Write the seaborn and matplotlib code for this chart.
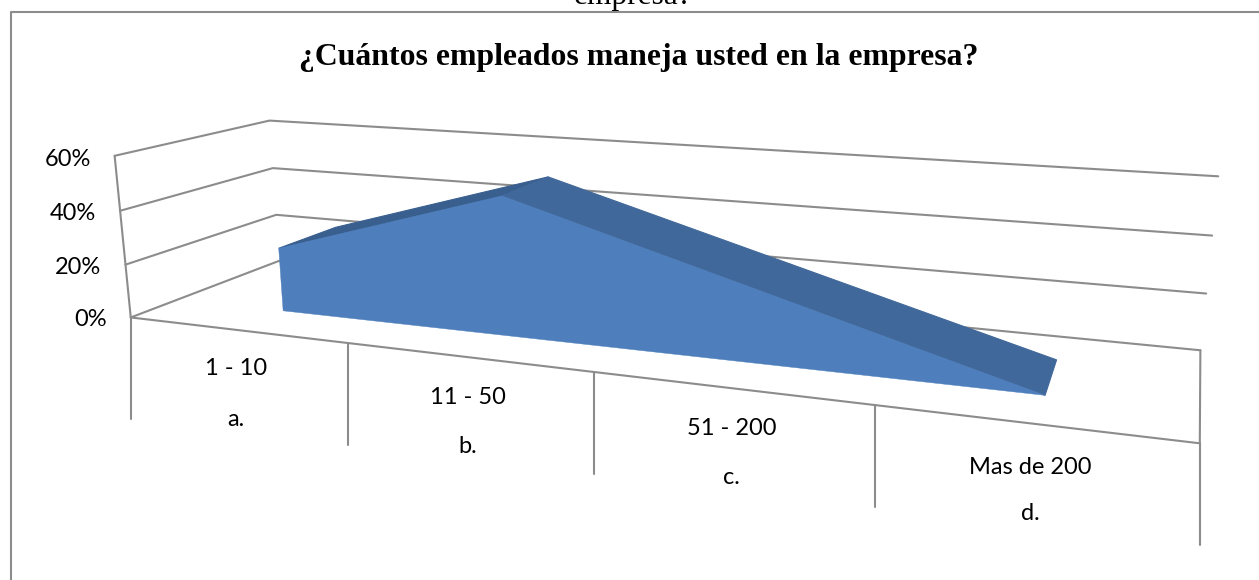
import numpy as np
import pandas as pd
import matplotlib
matplotlib.use("Agg")
import matplotlib.pyplot as plt
import seaborn as sns

# ---- chart data
categories = ["1 - 10", "11 - 50", "51 - 200", "Mas de 200"]
letters = ["a.", "b.", "c.", "d."]
values = [24, 50, 25, 0]
y_ticks = [0, 20, 40, 60]
title = "¿Cuántos empleados maneja usted en la empresa?"
clipped_caption = "empresa?"

W, H = 1259, 580
GRAY = "#8c8c8c"
FRONT = "#4e7fbc"
TOP = "#41689a"
TOP_DARK = "#395f8f"
DEPTH_FRONT, DEPTH_BACK = 0.29, 0.70
X_OFFSET = 0.513

# camera calibration: world (category position, value, depth) -> image pixel
calib_world = np.array([
    [0, 0, 0], [1, 0, 0], [2, 0, 0], [3, 0, 0], [4, 0, 0],
    [4, 0, 1], [0, 0, 1], [0, 60, 0], [0, 60, 1], [4, 60, 1],
    [0, 20, 0], [0, 40, 0], [0, 20, 1], [0, 40, 1], [4, 20, 1], [4, 40, 1],
], float)
calib_px = np.array([
    [131, 318], [348, 343], [594, 372], [875, 405], [1200, 443],
    [1200, 350], [279, 261], [114, 156], [270, 121], [1218, 176],
    [126, 265], [120, 210], [276, 214], [273, 168], [1207, 294], [1212, 236],
], float)
A, b = [], []
for (X, Y, Z), (u, v) in zip(calib_world, calib_px):
    A.append([X, Y, Z, 1, 0, 0, 0, 0, -u * X, -u * Y, -u * Z]); b.append(u)
    A.append([0, 0, 0, 0, X, Y, Z, 1, -v * X, -v * Y, -v * Z]); b.append(v)
P = np.append(np.linalg.lstsq(np.array(A), np.array(b), rcond=None)[0], 1).reshape(3, 4)


def project(x, y, z):
    p = P @ np.array([x, y, z, 1.0])
    return p[0] / p[2], p[1] / p[2]


sns.set_theme(style="white")
fig = plt.figure(figsize=(W / 100, H / 100), dpi=100)
ax = fig.add_axes([0, 0, 1, 1])
ax.set_xlim(0, W)
ax.set_ylim(H, 0)

rows = []
def add(name, pts):
    for p in pts:
        rows.append({"u": p[0], "v": p[1], "seg": name})

n = len(categories)
for t in y_ticks:
    add(f"g{t}", [project(0, t, 0), project(0, t, 1), project(n, t, 1)])
add("axis", [project(0, 0, 0), project(0, y_ticks[-1], 0)])
add("right", [project(n, 0, 0), project(n, 0, 1)])
add("front", [project(0, 0, 0), project(n, 0, 0)])
for i in range(n + 1):
    u, v = project(i, 0, 0)
    add(f"t{i}", [(u, v), (u, v + 102)])
wire = pd.DataFrame(rows)
sns.lineplot(data=wire, x="u", y="v", units="seg", estimator=None, sort=False,
             color=GRAY, linewidth=1.5, ax=ax, zorder=2, legend=False)

# chart frame: open on the right and at the bottom
frame = pd.DataFrame({"u": [11.5, 11.5, W], "v": [H, 12, 12]})
sns.lineplot(data=frame, x="u", y="v", estimator=None, sort=False,
             color=GRAY, linewidth=1.5, ax=ax, legend=False)

# 3-D area from the values
xs = np.arange(n) + X_OFFSET
front_top = [project(x, v, DEPTH_FRONT) for x, v in zip(xs, values)]
back_top = [project(x, v, DEPTH_BACK) for x, v in zip(xs, values)]
base_l = project(xs[0], 0, DEPTH_FRONT)
base_r = project(xs[-1], 0, DEPTH_FRONT)
for i in range(n - 1):
    ax.fill(*zip(front_top[i], back_top[i], back_top[i + 1], front_top[i + 1]),
            color=TOP_DARK if values[i + 1] > values[i] else TOP, lw=0.8, zorder=3)
ax.fill(*zip(*(front_top + [base_r, base_l])), color=FRONT, lw=0.3, zorder=4)

# texts
serif = "Liberation Serif"
body = "Lato"
ax.text(639, 58, title, family=serif, weight="bold", fontsize=22.9, ha="center",
        va="center", color="black")
ax.text(633, 4, clipped_caption, family=serif, fontsize=22.6, ha="center",
        va="baseline", color="black")
for t, yy in zip(y_ticks, [318, 266, 212, 158]):
    ax.text(project(0, t, 0)[0] - 24, yy + 1, f"{t}%", family=body, fontsize=17,
            ha="right", va="center", color="black")
label_dx = [-3, -3, -3, -7]
label_dy = [0, 2, 2, 5]
letter_dy = [1, 1, 1, 1]
for i, (c, l) in enumerate(zip(categories, letters)):
    u0, v0 = project(i, 0, 0)
    u1, v1 = project(i + 1, 0, 0)
    um = (u0 + u1) / 2 + label_dx[i]
    vm = (v0 + v1) / 2
    ax.text(um, vm + 38 + label_dy[i], c, family=body, fontsize=17, ha="center", va="center", color="black")
    ax.text(um, vm + 88 + letter_dy[i], l, family=body, fontsize=17, ha="center", va="center", color="black")

ax.set_axis_off()
fig.savefig("out.png", dpi=100)
